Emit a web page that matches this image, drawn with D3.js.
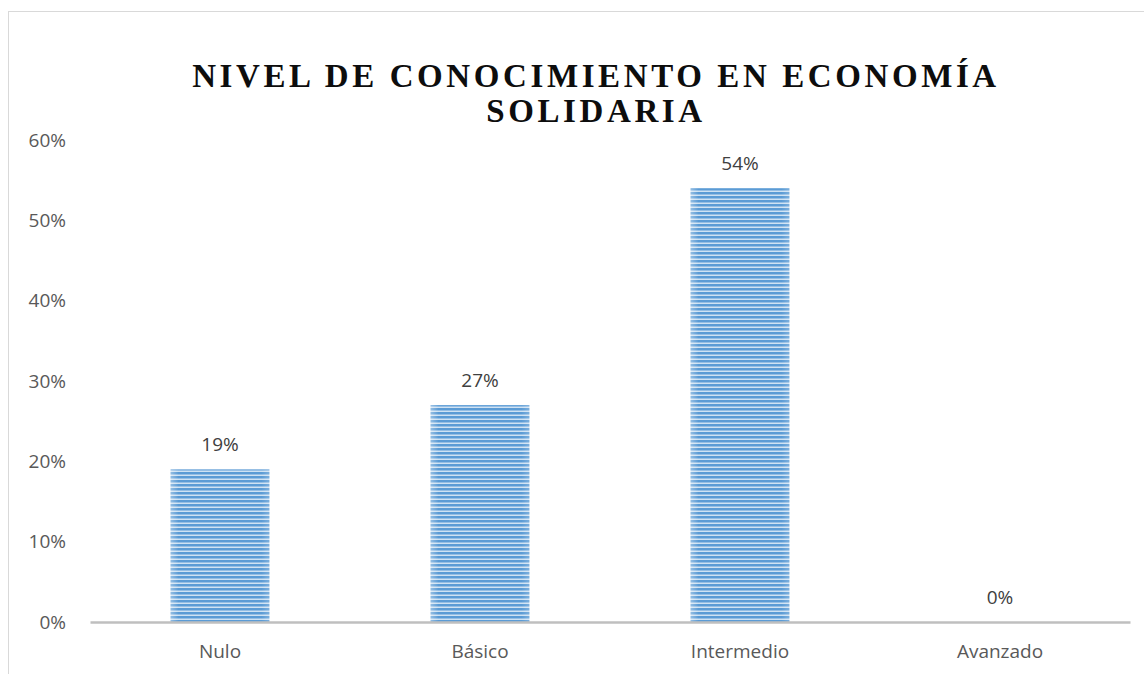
<!DOCTYPE html>
<html><head><meta charset="utf-8">
<script src="https://cdn.jsdelivr.net/npm/d3@7"></script>
<style>body{margin:0;background:#fff}</style>
</head><body>
<svg id="c" width="1144" height="674"></svg>
<script>
const categories = ["Nulo","Básico","Intermedio","Avanzado"];
const values = [0.19,0.27,0.54,0];
const yTicks = [0,0.1,0.2,0.3,0.4,0.5,0.6];
const titleLines = ["NIVEL DE CONOCIMIENTO EN ECONOMÍA","SOLIDARIA"];

const svg = d3.select("#c");
svg.append("rect").attr("x",8.5).attr("y",11.5).attr("width",1160).attr("height",700)
  .attr("fill","#fff").attr("stroke","#d9d9d9").attr("stroke-width",1);

const defs = svg.append("defs");
const pat = defs.append("pattern").attr("id","stripes").attr("patternUnits","userSpaceOnUse")
  .attr("width",8).attr("height",4);
pat.append("rect").attr("width",8).attr("height",4).attr("fill","#5b9bd5");
pat.append("rect").attr("y",2.5).attr("width",8).attr("height",1.5).attr("fill","#cfe2f3");
const grad = defs.append("linearGradient").attr("id","edge").attr("x1",0).attr("x2",1);
grad.append("stop").attr("offset",0).attr("stop-color","#fff").attr("stop-opacity",0.35);
grad.append("stop").attr("offset",0.08).attr("stop-color","#fff").attr("stop-opacity",0);
grad.append("stop").attr("offset",0.92).attr("stop-color","#fff").attr("stop-opacity",0);
grad.append("stop").attr("offset",1).attr("stop-color","#fff").attr("stop-opacity",0.2);

const x = d3.scaleBand().domain(categories).range([90,1130]).paddingInner(0.62).paddingOuter(0.31);
const y = d3.scaleLinear().domain([0,0.6]).range([622,140]);

const fmt = d3.format(".0%");
const labelFont = "'Open Sans', sans-serif";
const fs = 19;

// y axis
const yAxis = svg.append("g").attr("transform","translate(66,0)")
  .call(d3.axisLeft(y).tickValues(yTicks).tickFormat(fmt).tickSize(0).tickPadding(0));
yAxis.select(".domain").remove();
yAxis.selectAll("text").attr("font-family",labelFont).attr("font-size",fs).attr("fill","#595959");

// bars
const bars = svg.append("g");
bars.selectAll("rect.bar").data(values).join("rect").attr("class","bar")
  .attr("x",(d,i)=>x(categories[i])).attr("width",x.bandwidth())
  .attr("y",d=>y(d)).attr("height",d=>y(0)-y(d)).attr("fill","url(#stripes)");
bars.selectAll("rect.edge").data(values).join("rect").attr("class","edge")
  .attr("x",(d,i)=>x(categories[i])).attr("width",x.bandwidth())
  .attr("y",d=>y(d)).attr("height",d=>y(0)-y(d)).attr("fill","url(#edge)");

// x axis
const xAxis = svg.append("g").attr("transform",`translate(0,${y(0)})`)
  .call(d3.axisBottom(x).tickSize(0).tickPadding(23));
xAxis.select(".domain").attr("stroke","#bfbfbf").attr("stroke-width",2.5);
xAxis.selectAll("text").attr("font-family",labelFont).attr("font-size",fs).attr("fill","#595959");

// data labels
svg.append("g").selectAll("text").data(values).join("text")
  .attr("x",(d,i)=>x(categories[i])+x.bandwidth()/2).attr("y",d=>y(d)-18)
  .attr("text-anchor","middle").attr("font-family",labelFont).attr("font-size",fs)
  .attr("fill","#404040").text(d=>fmt(d));

// title
svg.append("g").selectAll("text").data(titleLines).join("text")
  .attr("x",596).attr("y",(d,i)=>87+i*35).attr("text-anchor","middle")
  .attr("font-family","'Liberation Serif', 'Times New Roman', serif").attr("font-weight","bold")
  .attr("font-size",33).attr("letter-spacing",3.6).attr("fill","#0d0d0d").text(d=>d);
</script>
</body></html>
